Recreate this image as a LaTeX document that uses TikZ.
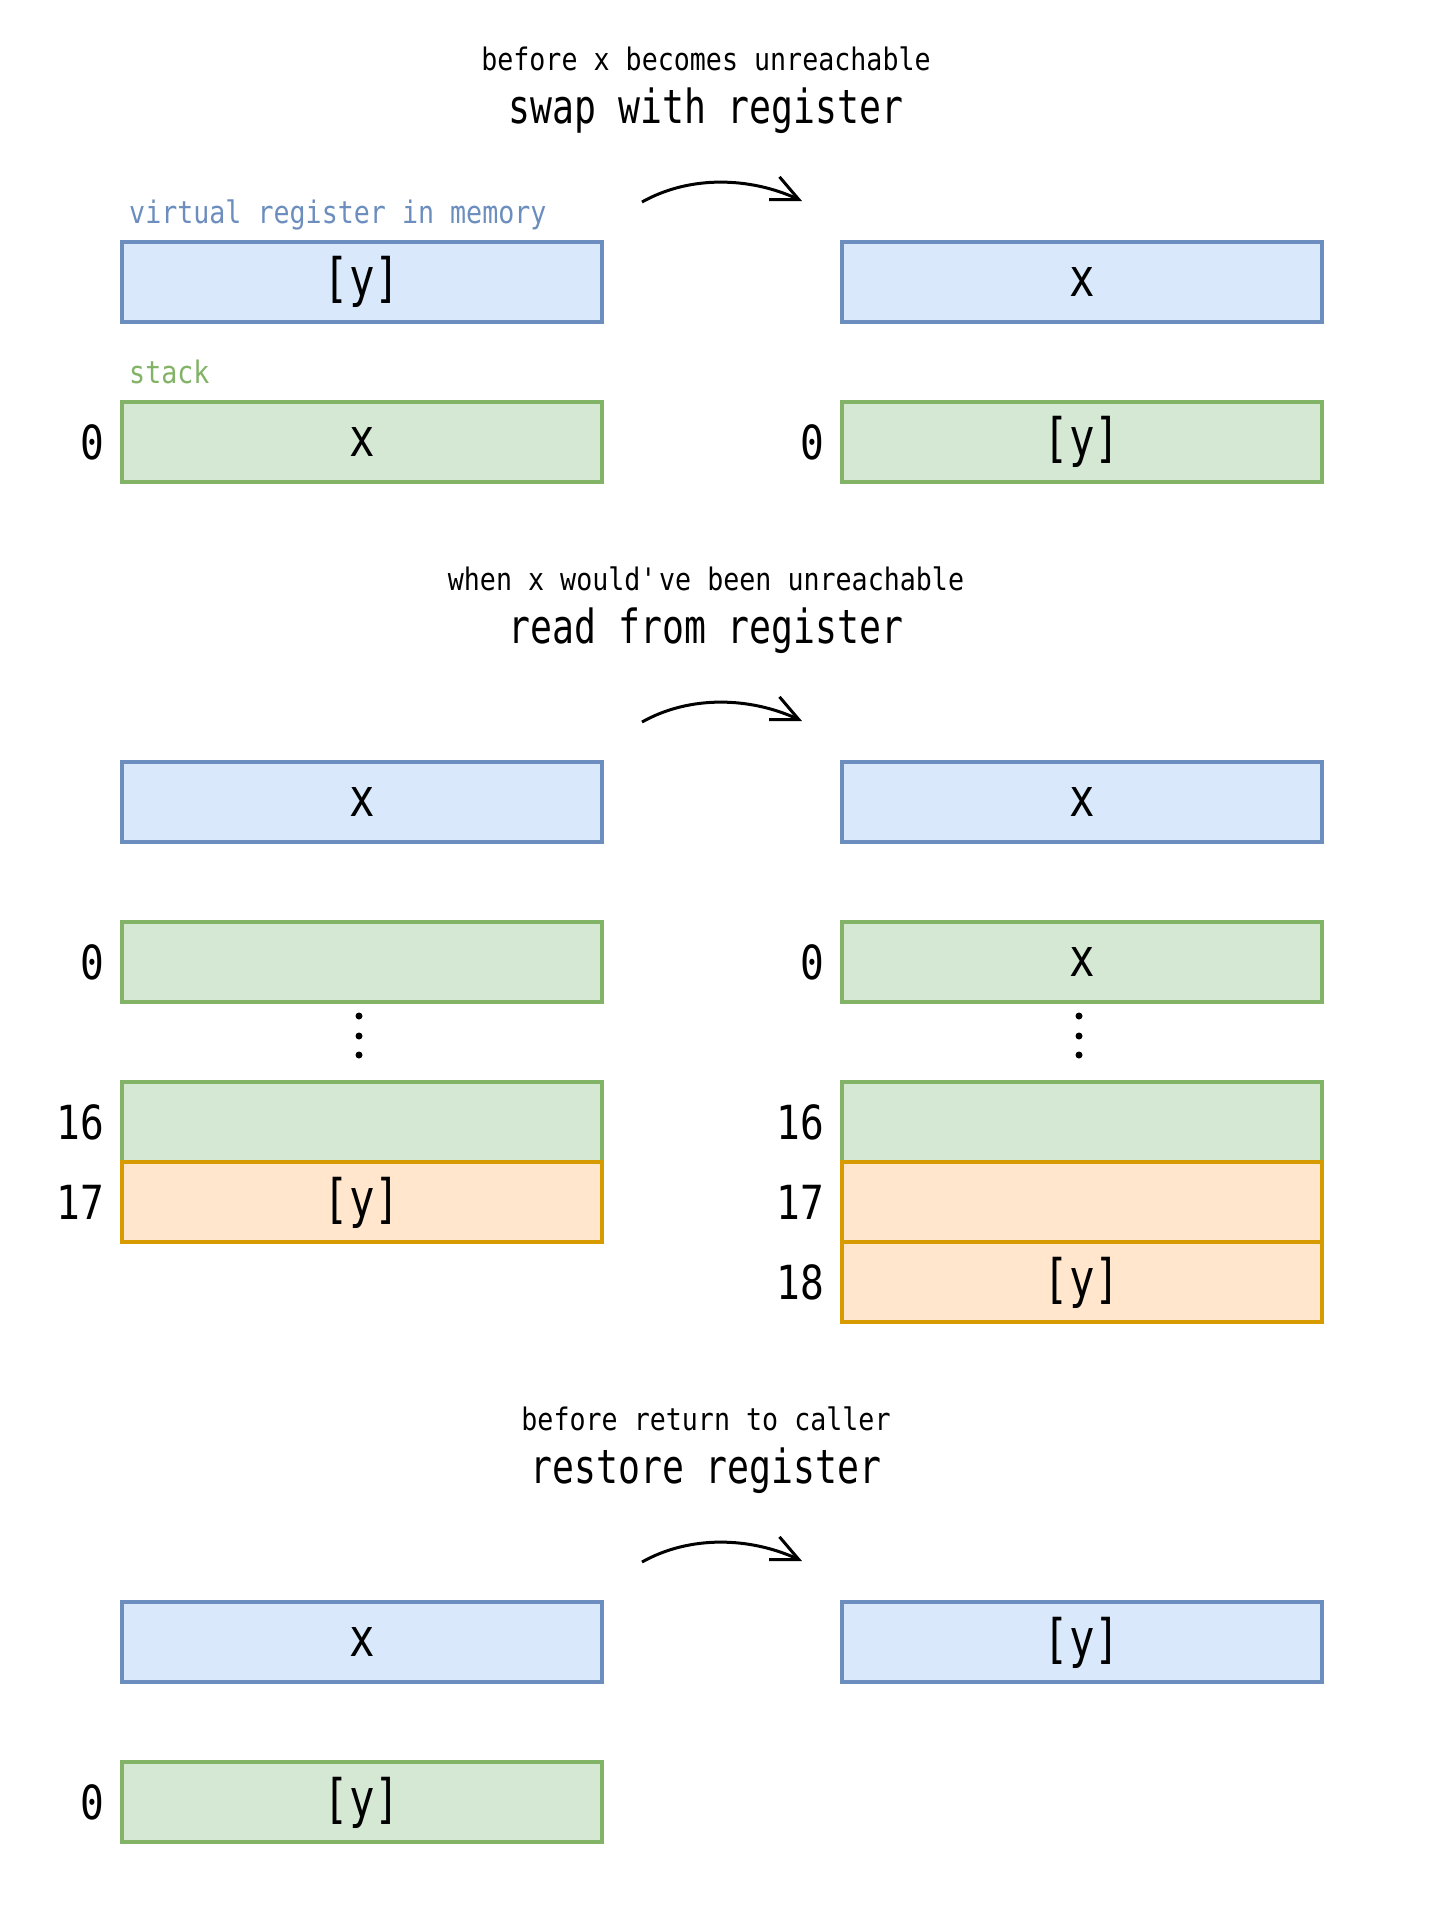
\documentclass[tikz,border=0pt]{standalone}
\usepackage{fontspec}
\setmainfont{DejaVu Sans Mono}[FakeStretch=0.8]
\newfontfamily\subfam{DejaVu Sans Mono}[FakeStretch=0.86]
\newfontfamily\labfam{DejaVu Sans Mono}[FakeStretch=0.84]
\newfontfamily\headfam{DejaVu Sans Mono}[FakeStretch=0.775]
\usetikzlibrary{arrows.meta}
\definecolor{bluefill}{HTML}{DAE8FC}
\definecolor{bluedraw}{HTML}{6C8EBF}
\definecolor{greenfill}{HTML}{D5E8D4}
\definecolor{greendraw}{HTML}{82B366}
\definecolor{orangefill}{HTML}{FFE6CC}
\definecolor{orangedraw}{HTML}{D79B00}
\newcommand\boxtxt{\fontsize{53}{60}\selectfont}
\newcommand\headtxt{\headfam\fontsize{47}{54}\selectfont}
\newcommand\labtxt{\labfam\fontsize{47}{54}\selectfont}
\newcommand\smalltxt{\subfam\fontsize{31}{37}\selectfont}
\begin{document}
\begin{tikzpicture}[x=1pt,y=-1pt,
  cell/.style={draw, line width=4pt, minimum width=480pt, minimum height=80pt, inner sep=0pt, font=\boxtxt},
  reg/.style={cell, draw=bluedraw, fill=bluefill},
  stk/.style={cell, draw=greendraw, fill=greenfill},
  spill/.style={cell, draw=orangedraw, fill=orangefill},
  idx/.style={anchor=east, inner sep=0pt, font=\labtxt},
  sub/.style={font=\smalltxt, inner sep=0pt},
  head/.style={font=\headtxt, inner sep=0pt},
  tag/.style={font=\smalltxt, inner sep=0pt, anchor=west},
  flow/.style={line width=3pt, -{Straight Barb[length=27pt,width=25pt]}},
  dot/.style={fill=black, circle, inner sep=0pt, minimum size=7pt}
]
\fill[white] (0,0) rectangle (1440,1920);
\useasboundingbox (0,0) rectangle (1440,1920);

% ---------- section 1 ----------
\node[sub] (t1a) at (706,59) {before x becomes unreachable};
\node[head] (t1b) at (706,111) {swap with register};
\coordinate (a1s) at (642,202);
\coordinate (a1e) at (802,201);
\draw[flow] (a1s) .. controls (690,175) and (750,177) .. (a1e);
\node[tag, text=bluedraw] (vr) at (129,215) {virtual register in memory};
\node[tag, text=greendraw] (st) at (129,372) {stack};
\node[reg] (r1l) at (362,282) {[y]};
\node[reg] (r1r) at (1082,282) {x};
\node[stk] (s1l) at (362,442) {x};
\node[stk] (s1r) at (1082,442) {[y]};
\node[idx] (i1l) at ([xshift=-16pt]s1l.west) {0};
\node[idx] (i1r) at ([xshift=-16pt]s1r.west) {0};

% ---------- section 2 ----------
\node[sub] (t2a) at (706,579) {when x would\textquotesingle ve been unreachable};
\node[head] (t2b) at (706,631) {read from register};
\coordinate (a2s) at (642,722);
\coordinate (a2e) at (802,721);
\draw[flow] (a2s) .. controls (690,695) and (750,697) .. (a2e);
\node[reg] (r2l) at (362,802.4) {x};
\node[reg] (r2r) at (1082,802.4) {x};
\node[stk] (s2l0) at (362,962.4) {};
\node[stk] (s2r0) at (1082,962.4) {x};
\node[dot] (d2l1) at (359,1016) {};
\node[dot] (d2l2) at (359,1036) {};
\node[dot] (d2l3) at (359,1055) {};
\node[dot] (d2r1) at (1079,1016) {};
\node[dot] (d2r2) at (1079,1036) {};
\node[dot] (d2r3) at (1079,1055) {};
\node[stk] (s2l16) at (362,1122.4) {};
\node[stk] (s2r16) at (1082,1122.4) {};
\node[spill] (s2l17) at (362,1202.4) {[y]};
\node[spill] (s2r17) at (1082,1202.4) {};
\node[spill] (s2r18) at (1082,1282.4) {[y]};
\node[idx] (i2l0) at ([xshift=-16pt]s2l0.west) {0};
\node[idx] (i2r0) at ([xshift=-16pt]s2r0.west) {0};
\node[idx] (i2l16) at ([xshift=-16pt]s2l16.west) {16};
\node[idx] (i2r16) at ([xshift=-16pt]s2r16.west) {16};
\node[idx] (i2l17) at ([xshift=-16pt]s2l17.west) {17};
\node[idx] (i2r17) at ([xshift=-16pt]s2r17.west) {17};
\node[idx] (i2r18) at ([xshift=-16pt]s2r18.west) {18};

% ---------- section 3 ----------
\node[sub] (t3a) at (706,1419) {before return to caller};
\node[head] (t3b) at (706,1471) {restore register};
\coordinate (a3s) at (642,1562);
\coordinate (a3e) at (802,1561);
\draw[flow] (a3s) .. controls (690,1535) and (750,1537) .. (a3e);
\node[reg] (r3l) at (362,1642.4) {x};
\node[reg] (r3r) at (1082,1642.4) {[y]};
\node[stk] (s3l) at (362,1802.4) {[y]};
\node[idx] (i3l) at ([xshift=-16pt]s3l.west) {0};
\end{tikzpicture}
\end{document}
